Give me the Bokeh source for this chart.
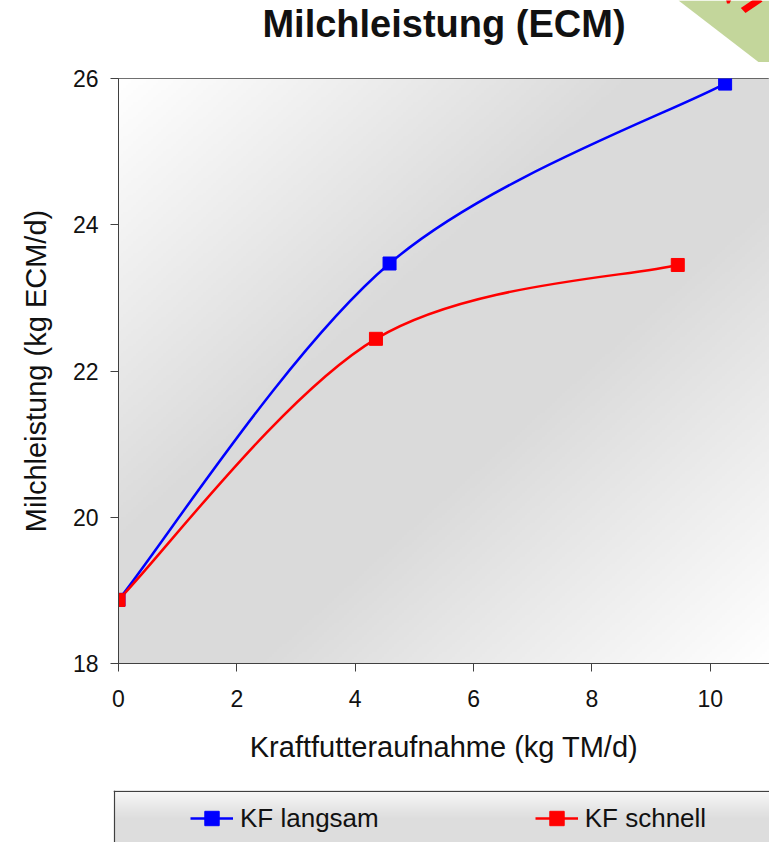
import numpy as np
from bokeh.plotting import figure
from bokeh.models import (Range1d, FixedTicker, Legend, LegendItem, Span, Label, ColumnDataSource)
from bokeh.layouts import column, row
from bokeh.embed import file_html
from bokeh.resources import INLINE

# ---------------- data ----------------
chart_title = "Milchleistung (ECM)"
x_title = "Kraftfutteraufnahme (kg TM/d)"
y_title = "Milchleistung (kg ECM/d)"
series_names = ["KF langsam", "KF schnell"]
x_langsam = [0.0, 4.58, 10.25]
y_langsam = [18.87, 23.47, 25.93]
x_schnell = [0.0, 4.35, 9.45]
y_schnell = [18.87, 22.44, 23.45]
x_ticks = [0, 2, 4, 6, 8, 10]
y_ticks = [18, 20, 22, 24, 26]
x_lim = (0, 11)
y_lim = (18, 26)
colors = ["#0000ff", "#ff0000"]

FONT = "Liberation Sans"
TXT = "#111111"
W = 769


def smooth_source(xs, ys):
    """Cubic Bezier pieces (Catmull-Rom style smoothing, like a spreadsheet 'smoothed line')."""
    pts = np.column_stack([xs, ys]).astype(float)
    n = len(pts)
    d = dict(x0=[], y0=[], x1=[], y1=[], cx0=[], cy0=[], cx1=[], cy1=[])
    for i in range(n - 1):
        pm = pts[max(i - 1, 0)]
        pa = pts[i]
        pb = pts[i + 1]
        pn = pts[min(i + 2, n - 1)]
        c1 = pa + (pb - pm) / 6.0
        c2 = pb - (pn - pa) / 6.0
        d["x0"].append(pa[0]); d["y0"].append(pa[1])
        d["x1"].append(pb[0]); d["y1"].append(pb[1])
        d["cx0"].append(c1[0]); d["cy0"].append(c1[1])
        d["cx1"].append(c2[0]); d["cy1"].append(c2[1])
    return ColumnDataSource(d)


def gray_rgba(g):
    a = np.zeros(g.shape + (4,), dtype=np.uint8)
    a[..., 0] = g
    a[..., 1] = g
    a[..., 2] = g
    a[..., 3] = 255
    return a.view(dtype=np.uint32).reshape(g.shape)


# ---------------- top strip: title + corner decoration ----------------
TOP_H = 62
pt = figure(width=W, height=TOP_H, x_range=Range1d(118, W), y_range=Range1d(TOP_H, 0),
            output_backend="svg", toolbar_location=None, x_axis_type=None, y_axis_type=None,
            min_border_left=118, min_border_right=0, min_border_top=0, min_border_bottom=0,
            border_fill_color="white", background_fill_color="white", outline_line_color=None)
pt.xgrid.visible = False
pt.ygrid.visible = False
# green corner ribbon with a cut-off red mark
pt.patch(x=[678, W, W], y=[0, 0, 70], fill_color="#c3d69b", line_color=None)
pt.patch(x=[740.3, 745.0, 762.0, 757.3], y=[7.5, 12.5, 1.0, -4.0], fill_color="#ff0000", line_color=None)
pt.patch(x=[725.5, 731.0, 729.0, 726.5], y=[-1.0, -1.0, 3.0, 3.0], fill_color="#ff0000", line_color=None)
pt.add_layout(Label(x=(118 + W) / 2.0, y=23, text=chart_title, text_font=FONT, text_font_size="38px",
                    text_font_style="bold", text_color=TXT, text_align="center",
                    text_baseline="middle"))

# ---------------- main chart ----------------
p = figure(width=W, height=728, x_range=Range1d(*x_lim), y_range=Range1d(*y_lim),
           output_backend="svg", toolbar_location=None,
           min_border_left=118, min_border_right=0, min_border_top=16, min_border_bottom=127,
           border_fill_color="white")
p.xgrid.visible = False
p.ygrid.visible = False
p.outline_line_color = "#404040"
p.outline_line_width = 1

# diagonal gradient plot background
nx, ny = 260, 240
u = np.linspace(0, 1, nx)[None, :]
v = np.linspace(1, 0, ny)[:, None]          # row 0 is the bottom of the frame
dd = np.abs((u + v) - 1.0)
g = 218 + 37 * np.clip((dd - 0.2) / 0.8, 0, 1)
p.image_rgba(image=[gray_rgba(g)], x=x_lim[0], y=y_lim[0], dw=x_lim[1] - x_lim[0], dh=y_lim[1] - y_lim[0])

for xs, ys, c in [(x_langsam, y_langsam, colors[0]), (x_schnell, y_schnell, colors[1])]:
    p.bezier(x0="x0", y0="y0", x1="x1", y1="y1", cx0="cx0", cy0="cy0", cx1="cx1", cy1="cy1",
             source=smooth_source(xs, ys), line_color=c, line_width=2.5)
for xs, ys, c in [(x_langsam, y_langsam, colors[0]), (x_schnell, y_schnell, colors[1])]:
    p.scatter(xs, ys, marker="square", size=13, fill_color=c, line_color=c)

for ax in (p.xaxis[0], p.yaxis[0]):
    ax.axis_line_color = "#404040"
    ax.major_tick_line_color = "#404040"
    ax.major_tick_out = 8
    ax.major_tick_in = 0
    ax.minor_tick_line_color = None
    ax.major_label_text_font = FONT
    ax.major_label_text_font_size = "23px"
    ax.major_label_text_color = TXT
    ax.axis_label_text_font = FONT
    ax.axis_label_text_font_size = "29px"
    ax.axis_label_text_font_style = "normal"
    ax.axis_label_text_color = TXT

p.xaxis.ticker = FixedTicker(ticks=x_ticks)
p.yaxis.ticker = FixedTicker(ticks=y_ticks)
p.xaxis.axis_label = x_title
p.yaxis.axis_label = y_title
p.xaxis.major_label_standoff = 18
p.yaxis.major_label_standoff = 12
p.xaxis.axis_label_standoff = 21
p.yaxis.axis_label_standoff = 18

# ---------------- legend box ----------------
p2 = figure(width=W, height=52, x_range=Range1d(0, 1), y_range=Range1d(0, 1),
            output_backend="svg", toolbar_location=None, x_axis_type=None, y_axis_type=None,
            min_border_left=113, min_border_right=0, min_border_top=0, min_border_bottom=0,
            border_fill_color="white", outline_line_color=None)
p2.xgrid.visible = False
p2.ygrid.visible = False

mx, my = 4, 80
vv = np.linspace(1, 0, my)[:, None] * np.ones((1, mx))   # fraction from the top
gl = np.where(vv < 0.55, 248 - (248 - 221) * (vv / 0.55), 221)
p2.image_rgba(image=[gray_rgba(gl)], x=0, y=0, dw=1, dh=1)
p2.add_layout(Span(location=0.985, dimension="width", line_color="#404040", line_width=1.2))
p2.add_layout(Span(location=0.0015, dimension="height", line_color="#404040", line_width=1.2))

items = []
for name, xs, ys, c in zip(series_names, [x_langsam, x_schnell], [y_langsam, y_schnell], colors):
    # same series drawn here (outside this strip's visible range) only to feed the legend glyphs
    lr = p2.line(xs, ys, line_color=c, line_width=2.5)
    sr = p2.scatter(xs, ys, marker="square", fill_color=c, line_color=c)
    items.append(LegendItem(label=name, renderers=[lr, sr]))
leg = Legend(items=items, location=(77, 6), orientation="horizontal", padding=0, spacing=156,
             glyph_width=43, glyph_height=36, label_standoff=7, margin=0,
             label_text_font=FONT, label_text_font_size="26px", label_text_color=TXT,
             background_fill_alpha=0, border_line_alpha=0)
p2.add_layout(leg)

layout = column(pt, p, row(p2), spacing=0)
open("out.html", "w").write(file_html(layout, INLINE))
